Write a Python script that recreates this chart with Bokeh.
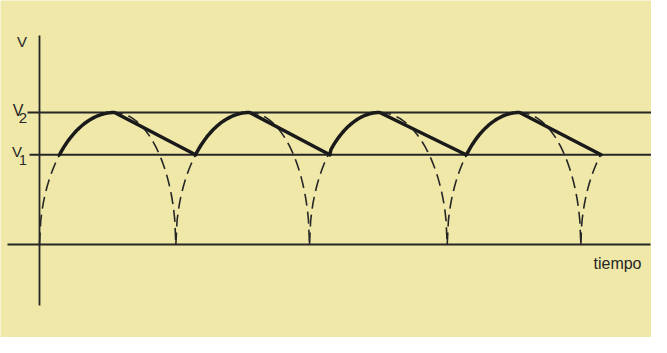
import numpy as np
from bokeh.plotting import figure
from bokeh.models import Range1d
from bokeh.embed import file_html
from bokeh.resources import INLINE
from bokeh.core.properties import value

# ---- data (tiempo in ms, tension normalised to V2) ----
ceros = [0.0, 10.1, 20.0, 30.2, 40.1]          # zero crossings of the rectified wave
picos = [5.56, 15.56, 25.2, 35.56, 45.6]       # instants of the maxima
inicio_carga = 1.48                            # first point where the output reaches V1
fin_descarga = [11.56, 21.5, 31.6, 41.6]       # end of each capacitor discharge (at V1)
V2 = 1.0
V1 = 0.68
etiqueta_eje_y = "V"
etiqueta_v2 = ("V", "2")
etiqueta_v1 = ("V", "1")
etiqueta_eje_x = "tiempo"

# ---- style / layout ----
BG = "#EFE8A9"
INK = "#262626"
FONT = value("Liberation Sans")
W, H = 651, 337
PX_PER_MS = 13.5
PX_PER_V = 132.0
X0_PX, Y0_PX = 47 - 8, 252 - 8   # position of origin inside the figure

p = figure(width=W, height=H, output_backend="svg", toolbar_location=None,
           x_axis_location=None, y_axis_location=None, min_border=0,
           x_range=Range1d(-X0_PX / PX_PER_MS, (W - X0_PX) / PX_PER_MS),
           y_range=Range1d(-(H - Y0_PX) / PX_PER_V, Y0_PX / PX_PER_V))
p.grid.visible = False
p.outline_line_color = None
p.background_fill_color = BG
p.border_fill_color = BG


def arco(z, pk, x):
    """quarter-ellipse shape of the drawn half-wave (rise from z to pk)."""
    a = pk - z
    return V2 * np.sqrt(np.clip(1 - ((pk - x) / a) ** 2, 0, 1))


def bajada(pk, z, x):
    a = z - pk
    return V2 * np.sqrt(np.clip(1 - ((x - pk) / a) ** 2, 0, 1))


# reference lines
x_right = (W - X0_PX) / PX_PER_MS
p.line([-12 / PX_PER_MS, x_right], [V2, V2], line_color=INK, line_width=1.8)
p.line([-10 / PX_PER_MS, x_right], [V1, V1], line_color=INK, line_width=1.8)
p.line([-32 / PX_PER_MS, 611 / PX_PER_MS], [0, 0], line_color=INK, line_width=1.8)
p.line([ceros[0], ceros[0]], [-61 / PX_PER_V, 209 / PX_PER_V], line_color=INK, line_width=1.8)

# dashed full half-waves
for k in range(4):
    z0, pk, z1 = ceros[k], picos[k], ceros[k + 1]
    xr = np.linspace(z0, pk, 60)
    xf = np.linspace(pk, z1, 60)[1:]
    xs = np.concatenate([xr, xf])
    ys = np.concatenate([arco(z0, pk, xr), bajada(pk, z1, xf)])
    p.line(xs, ys, line_color=INK, line_width=1.6, line_dash="12 6")

# last partial rise (only up to V1)
xr = np.linspace(ceros[4], fin_descarga[3], 30)
p.line(xr, arco(ceros[4], picos[4], xr), line_color=INK, line_width=1.6, line_dash="12 6")

# solid output (capacitor voltage)
starts = [inicio_carga] + fin_descarga[:3]
for k in range(4):
    xr = np.linspace(starts[k], picos[k], 40)
    yr = arco(ceros[k], picos[k], xr)
    yr[0] = V1
    xs = np.concatenate([xr, [fin_descarga[k]]])
    ys = np.concatenate([yr, [V1]])
    p.line(xs, ys, line_color="#1a1a1a", line_width=3.5, line_join="round", line_cap="round")

# labels
def lbl(x_px, y_px, txt, size):
    p.text([(x_px - 47) / PX_PER_MS], [(252 - y_px) / PX_PER_V], text=[txt],
           text_font=FONT, text_font_size=size, text_color=INK,
           text_align="center", text_baseline="middle")

lbl(29.5, 49, etiqueta_eje_y, "15px")
lbl(25.5, 118, etiqueta_v2[0], "16px")
lbl(30.5, 125, etiqueta_v2[1], "15px")
lbl(24.5, 159, etiqueta_v1[0], "15px")
lbl(30.5, 167, etiqueta_v1[1], "14px")
lbl(625, 271, etiqueta_eje_x, "16px")

open("out.html", "w").write(file_html(p, INLINE))
